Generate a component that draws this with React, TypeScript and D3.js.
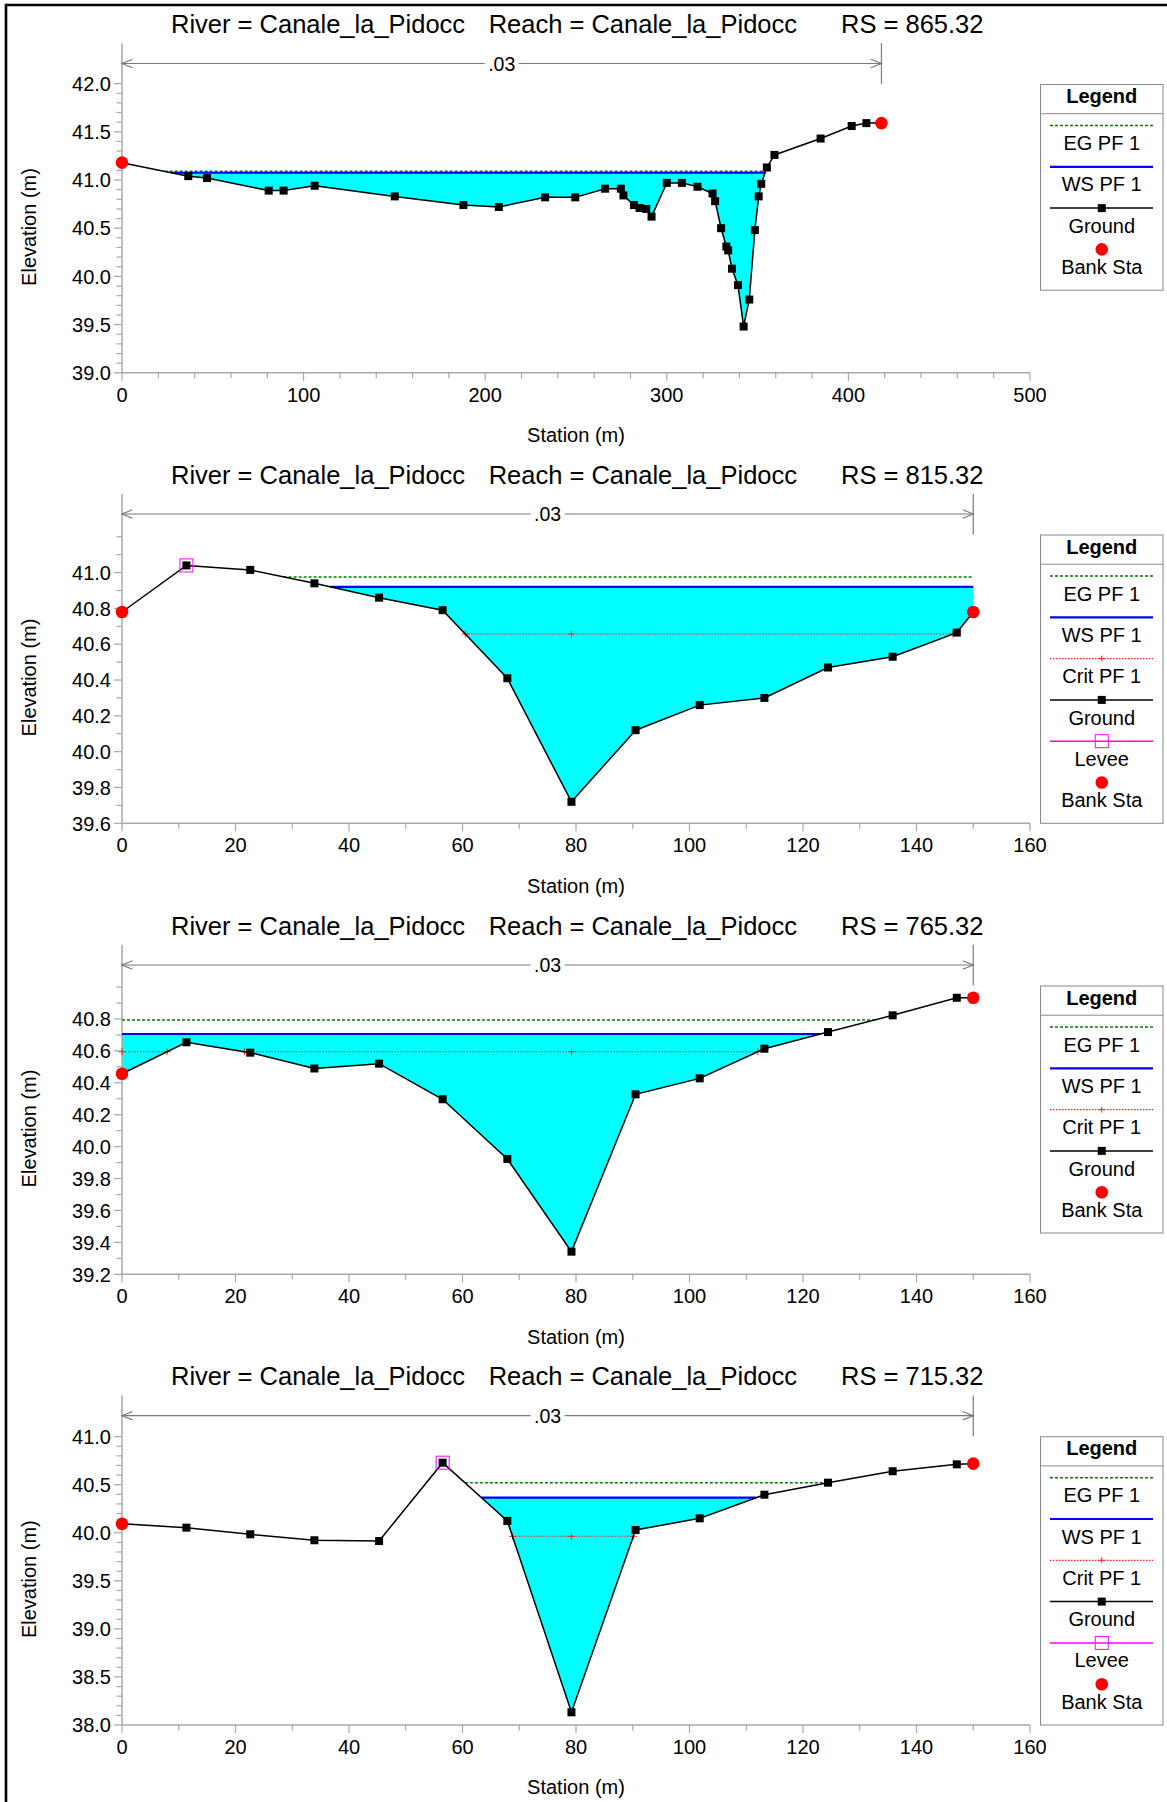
import React from 'react';
import * as d3 from 'd3';

const FONT = "'Liberation Sans', Arial, Helvetica, sans-serif";

// ---------------- DATA ----------------
// Cross section RS 865.32
const sta865 = [0, 36.5, 46.8, 80.8, 89.0, 106.1, 150.2, 188.0, 207.5, 233.0, 249.6, 266.0, 274.7, 276.1, 281.9, 285.0, 288.7, 291.6, 300.0, 308.3, 316.9, 325.2, 326.6, 329.9, 332.8, 333.8, 335.9, 339.2, 342.3, 345.4, 348.5, 350.6, 352.0, 355.1, 359.3, 384.7, 401.8, 409.9, 418.2];
const elev865 = [41.18, 41.04, 41.02, 40.89, 40.89, 40.94, 40.83, 40.74, 40.72, 40.82, 40.82, 40.91, 40.91, 40.84, 40.74, 40.71, 40.70, 40.62, 40.97, 40.97, 40.93, 40.86, 40.78, 40.50, 40.31, 40.27, 40.08, 39.91, 39.48, 39.76, 40.48, 40.83, 40.96, 41.13, 41.26, 41.43, 41.56, 41.59, 41.59];

// Cross section RS 815.32
const sta815 = [0, 11.35, 22.6, 33.9, 45.3, 56.5, 67.9, 79.2, 90.5, 101.8, 113.2, 124.4, 135.8, 147.1, 150];
const elev815 = [40.78, 41.04, 41.015, 40.94, 40.86, 40.79, 40.41, 39.72, 40.12, 40.26, 40.30, 40.47, 40.53, 40.665, 40.78];

// Cross section RS 765.32
const sta765 = [0, 11.35, 22.6, 33.9, 45.3, 56.5, 67.9, 79.2, 90.5, 101.8, 113.2, 124.4, 135.8, 147.1, 150];
const elev765 = [40.457, 40.654, 40.589, 40.49, 40.52, 40.297, 39.923, 39.342, 40.328, 40.428, 40.614, 40.718, 40.823, 40.933, 40.933];

// Cross section RS 715.32
const sta715 = [0, 11.35, 22.6, 33.9, 45.3, 56.5, 67.9, 79.2, 90.5, 101.8, 113.2, 124.4, 135.8, 147.1, 150];
const elev715 = [40.094, 40.053, 39.984, 39.922, 39.914, 40.729, 40.123, 38.132, 40.029, 40.15, 40.396, 40.521, 40.64, 40.712, 40.719];

const riverStations = ['865.32', '815.32', '765.32', '715.32'];
const riverName = 'Canale_la_Pidocc';
const reachName = 'Canale_la_Pidocc';
const wsLevels = [41.075, 40.92, 40.706, 40.365];
const egLevels = [41.09, 40.976, 40.794, 40.521];
const critLevels: (number | null)[] = [null, 40.657, 40.595, 39.963];
const leftLevees: (number | null)[] = [null, 11.35, null, 56.5];
const bankStations = [[0, 418.2], [0, 150], [0, 150], [0, 150]];
const manningN = ['.03', '.03', '.03', '.03'];

const xDomains: [number, number][] = [[0, 500], [0, 160], [0, 160], [0, 160]];
const yDomains: [number, number][] = [[39.0, 42.418], [39.6, 41.44], [39.2, 41.265], [38.0, 41.428]];
const yTickLabels = [
  [39.0, 39.5, 40.0, 40.5, 41.0, 41.5, 42.0],
  [39.6, 39.8, 40.0, 40.2, 40.4, 40.6, 40.8, 41.0],
  [39.2, 39.4, 39.6, 39.8, 40.0, 40.2, 40.4, 40.6, 40.8],
  [38.0, 38.5, 39.0, 39.5, 40.0, 40.5, 41.0],
];
const yMinorTop = [42.0, 41.2, 41.0, 41.0];
const xTickLabels = [
  [0, 100, 200, 300, 400, 500],
  [0, 20, 40, 60, 80, 100, 120, 140, 160],
  [0, 20, 40, 60, 80, 100, 120, 140, 160],
  [0, 20, 40, 60, 80, 100, 120, 140, 160],
];
const xMinorStep = [20, 10, 10, 10];

const legendSets = [
  ['EG PF 1', 'WS PF 1', 'Ground', 'Bank Sta'],
  ['EG PF 1', 'WS PF 1', 'Crit PF 1', 'Ground', 'Levee', 'Bank Sta'],
  ['EG PF 1', 'WS PF 1', 'Crit PF 1', 'Ground', 'Bank Sta'],
  ['EG PF 1', 'WS PF 1', 'Crit PF 1', 'Ground', 'Levee', 'Bank Sta'],
];

const stationSets = [sta865, sta815, sta765, sta715];
const elevationSets = [elev865, elev815, elev765, elev715];

// ---------------- LAYOUT ----------------
const W = 1167;
const H = 1802;
const PANEL_OFFSETS = [0, 450.5, 901.5, 1352.2];
const X0 = 122;
const X1 = 1030;
const AXIS_Y = 372.8;
const TOP_Y = 43.3;
const NBAR_Y = 63.5;
const LEG_X0 = 1040.5;
const LEG_X1 = 1163;
const LEG_TOP = 84.5;
const LEG_SEP = 113.7;
const ENTRY_H = 41.3;
const LEG_CX = (LEG_X0 + LEG_X1) / 2;
const SQ = 8;

const COL_AXIS = '#a8a8a8';
const COL_NBAR = '#7a7a7a';
const COL_WATER = '#00ffff';
const COL_WS = '#0000ff';
const COL_EG = '#008000';
const COL_CRIT = '#ff2020';
const COL_LEVEE = '#ff00ff';
const COL_BANK = '#ff0000';

type Pt = { s: number; e: number };

function interp(sta: number[], elev: number[], s: number): number {
  for (let i = 0; i < sta.length - 1; i++) {
    if (s >= sta[i] && s <= sta[i + 1]) {
      const t = sta[i + 1] === sta[i] ? 0 : (s - sta[i]) / (sta[i + 1] - sta[i]);
      return elev[i] + t * (elev[i + 1] - elev[i]);
    }
  }
  return s < sta[0] ? elev[0] : elev[elev.length - 1];
}

function wetRanges(sta: number[], elev: number[], level: number, lo: number, hi: number): Pt[][] {
  const pts: Pt[] = [{ s: lo, e: interp(sta, elev, lo) }];
  sta.forEach((s, i) => {
    if (s > lo && s < hi) pts.push({ s, e: elev[i] });
  });
  pts.push({ s: hi, e: interp(sta, elev, hi) });
  const ranges: Pt[][] = [];
  let cur: Pt[] | null = pts[0].e < level ? [pts[0]] : null;
  for (let k = 1; k < pts.length; k++) {
    const a = pts[k - 1];
    const b = pts[k];
    const aw = a.e < level;
    const bw = b.e < level;
    if (aw !== bw) {
      const t = (level - a.e) / (b.e - a.e);
      const c = { s: a.s + t * (b.s - a.s), e: level };
      if (aw && cur) {
        cur.push(c);
        ranges.push(cur);
        cur = null;
      } else {
        cur = [c];
      }
    }
    if (bw && cur) cur.push(b);
  }
  if (cur) ranges.push(cur);
  return ranges;
}

function LegendSymbol({ kind, cy }: { kind: string; cy: number }) {
  const lx0 = 1050;
  const lx1 = 1153;
  switch (kind) {
    case 'EG PF 1':
      return <line x1={lx0} x2={lx1} y1={cy} y2={cy} stroke={COL_EG} strokeWidth={1.5} strokeDasharray="3,2" />;
    case 'WS PF 1':
      return <line x1={lx0} x2={lx1} y1={cy} y2={cy} stroke={COL_WS} strokeWidth={2.2} />;
    case 'Crit PF 1':
      return (
        <g>
          <line x1={lx0} x2={lx1} y1={cy} y2={cy} stroke={COL_CRIT} strokeWidth={1.2} strokeDasharray="1.5,1.5" />
          <path d={`M${LEG_CX - 3},${cy}H${LEG_CX + 3}M${LEG_CX},${cy - 3}V${cy + 3}`} stroke={COL_CRIT} strokeWidth={1} />
        </g>
      );
    case 'Ground':
      return (
        <g>
          <line x1={lx0} x2={lx1} y1={cy} y2={cy} stroke="#000" strokeWidth={1.5} />
          <rect x={LEG_CX - SQ / 2} y={cy - SQ / 2} width={SQ} height={SQ} fill="#000" />
        </g>
      );
    case 'Levee':
      return (
        <g>
          <line x1={lx0} x2={lx1} y1={cy} y2={cy} stroke={COL_LEVEE} strokeWidth={1.5} />
          <rect x={LEG_CX - 6.5} y={cy - 6.5} width={13} height={13} fill="none" stroke={COL_LEVEE} strokeWidth={1} />
        </g>
      );
    case 'Bank Sta':
      return <circle cx={LEG_CX} cy={cy} r={6.3} fill={COL_BANK} />;
    default:
      return null;
  }
}

function Panel({ idx }: { idx: number }) {
  const sta = stationSets[idx];
  const elev = elevationSets[idx];
  const x = d3.scaleLinear().domain(xDomains[idx]).range([X0, X1]);
  const y = d3.scaleLinear().domain(yDomains[idx]).range([AXIS_Y, TOP_Y]);
  const lo = leftLevees[idx] ?? sta[0];
  const hi = sta[sta.length - 1];

  const ws = wsLevels[idx];
  const eg = egLevels[idx];
  const crit = critLevels[idx];

  const wsRanges = wetRanges(sta, elev, ws, lo, hi);
  const egRanges = wetRanges(sta, elev, eg, lo, hi);
  const critRanges = crit !== null ? wetRanges(sta, elev, crit, lo, hi) : [];

  const area = (level: number) =>
    d3.area<Pt>().x((d) => x(d.s)).y0(y(level)).y1((d) => y(d.e));

  const groundPts: Pt[] = sta.map((s, i) => ({ s, e: elev[i] }));
  const groundLine = d3.line<Pt>().x((d) => x(d.s)).y((d) => y(d.e));

  let minI = 0;
  elev.forEach((e, i) => {
    if (e < elev[minI]) minI = i;
  });
  const thalweg = sta[minI];

  const critMarks: number[] = [];
  critRanges.forEach((r) => {
    critMarks.push(r[0].s, r[r.length - 1].s);
    if (thalweg > r[0].s && thalweg < r[r.length - 1].s) critMarks.push(thalweg);
  });

  const [xa, xb] = xDomains[idx];
  const xMinor = d3.range(xa, xb + 1e-6, xMinorStep[idx]);
  const yLabels = yTickLabels[idx];
  const yMinor = d3.range(Math.round(yDomains[idx][0] * 10), Math.round(yMinorTop[idx] * 10) + 1).map((v) => v / 10);

  const banks = bankStations[idx];
  const bankR = banks[1];
  const xl = x(banks[0]);
  const xr = x(bankR);
  const mid = (xl + xr) / 2;

  const legend = legendSets[idx];
  const legH = LEG_SEP - LEG_TOP + legend.length * ENTRY_H + 11.3;

  const fmt = d3.format('.1f');

  return (
    <g transform={`translate(0,${PANEL_OFFSETS[idx]})`}>
      <g fontFamily={FONT} fontSize={25.5} fill="#000">
        <text x={171} y={33.3}>{`River = ${riverName}`}</text>
        <text x={488.7} y={33.3}>{`Reach = ${reachName}`}</text>
        <text x={841} y={33.3}>{`RS = ${riverStations[idx]}`}</text>
      </g>

      {wsRanges.map((r, i) => (
        <path key={`wf${i}`} d={area(ws)(r) || ''} fill={COL_WATER} stroke="none" />
      ))}

      <line x1={X0} x2={X0} y1={TOP_Y} y2={AXIS_Y} stroke={COL_AXIS} strokeWidth={1.5} />
      <line x1={X0} x2={X1} y1={AXIS_Y} y2={AXIS_Y} stroke={COL_AXIS} strokeWidth={1.5} />
      {yMinor.map((v) => {
        const isMajor = yLabels.some((l) => Math.abs(l - v) < 1e-6);
        return (
          <line key={`ym${v}`} x1={X0 - (isMajor ? 8 : 5.5)} x2={X0} y1={y(v)} y2={y(v)} stroke={COL_AXIS} strokeWidth={1.2} />
        );
      })}
      {xMinor.map((v) => {
        const isMajor = xTickLabels[idx].includes(v);
        return (
          <line key={`xm${v}`} x1={x(v)} x2={x(v)} y1={AXIS_Y} y2={AXIS_Y + (isMajor ? 8 : 5.5)} stroke={COL_AXIS} strokeWidth={1.2} />
        );
      })}
      <g fontFamily={FONT} fontSize={20} fill="#000">
        {yLabels.map((v) => (
          <text key={`yl${v}`} x={111} y={y(v)} dy="0.36em" textAnchor="end">
            {fmt(v)}
          </text>
        ))}
        {xTickLabels[idx].map((v) => (
          <text key={`xl${v}`} x={x(v)} y={AXIS_Y + 29} textAnchor="middle">
            {v}
          </text>
        ))}
        <text x={(X0 + X1) / 2} y={442} textAnchor="middle">
          Station (m)
        </text>
        <text transform={`translate(36,227) rotate(-90)`} textAnchor="middle">
          Elevation (m)
        </text>
      </g>

      <line x1={xl} x2={mid - 17} y1={NBAR_Y} y2={NBAR_Y} stroke={COL_NBAR} strokeWidth={1.2} />
      <line x1={mid + 17} x2={xr} y1={NBAR_Y} y2={NBAR_Y} stroke={COL_NBAR} strokeWidth={1.2} />
      <path d={`M${xl + 10.5},${NBAR_Y - 4.2}L${xl},${NBAR_Y}L${xl + 10.5},${NBAR_Y + 4.2}`} fill="none" stroke={COL_NBAR} strokeWidth={1.2} />
      <path d={`M${xr - 10.5},${NBAR_Y - 4.2}L${xr},${NBAR_Y}L${xr - 10.5},${NBAR_Y + 4.2}`} fill="none" stroke={COL_NBAR} strokeWidth={1.2} />
      <line x1={xr} x2={xr} y1={TOP_Y} y2={84} stroke={COL_NBAR} strokeWidth={1.2} />
      <text x={mid} y={70.5} textAnchor="middle" fontFamily={FONT} fontSize={19.5} fill="#000">
        {manningN[idx]}
      </text>

      {egRanges.map((r, i) => (
        <line key={`eg${i}`} x1={x(r[0].s)} x2={x(r[r.length - 1].s)} y1={y(eg)} y2={y(eg)} stroke={COL_EG} strokeWidth={1.5} strokeDasharray="3,2" />
      ))}
      {wsRanges.map((r, i) => (
        <line key={`ws${i}`} x1={x(r[0].s)} x2={x(r[r.length - 1].s)} y1={y(ws)} y2={y(ws)} stroke={COL_WS} strokeWidth={2.2} />
      ))}
      {crit !== null &&
        critRanges.map((r, i) => (
          <line key={`cr${i}`} x1={x(r[0].s)} x2={x(r[r.length - 1].s)} y1={y(crit)} y2={y(crit)} stroke={COL_CRIT} strokeWidth={1.1} strokeDasharray="1.5,1.5" />
        ))}
      {crit !== null &&
        critMarks.map((s, i) => (
          <path key={`cm${i}`} d={`M${x(s) - 3.5},${y(crit)}H${x(s) + 3.5}M${x(s)},${y(crit) - 3.5}V${y(crit) + 3.5}`} stroke={COL_CRIT} strokeWidth={1} />
        ))}

      <path d={groundLine(groundPts) || ''} fill="none" stroke="#000" strokeWidth={1.5} />
      {groundPts.map((d, i) => (
        <rect key={`gp${i}`} x={x(d.s) - SQ / 2} y={y(d.e) - SQ / 2} width={SQ} height={SQ} fill="#000" />
      ))}
      {leftLevees[idx] !== null && (
        <rect
          x={x(leftLevees[idx] as number) - 6.5}
          y={y(interp(sta, elev, leftLevees[idx] as number)) - 6.5}
          width={13}
          height={13}
          fill="none"
          stroke={COL_LEVEE}
          strokeWidth={1}
        />
      )}
      {banks.map((b, i) => (
        <circle key={`bk${i}`} cx={x(b)} cy={y(interp(sta, elev, b))} r={6.3} fill={COL_BANK} />
      ))}

      <rect x={LEG_X0} y={LEG_TOP} width={LEG_X1 - LEG_X0} height={legH} fill="#fff" stroke="#8a8a8a" strokeWidth={1} />
      <line x1={LEG_X0} x2={LEG_X1} y1={LEG_SEP} y2={LEG_SEP} stroke="#8a8a8a" strokeWidth={1} />
      <text x={LEG_CX} y={103.3} textAnchor="middle" fontFamily={FONT} fontSize={20} fontWeight="bold" fill="#000">
        Legend
      </text>
      {legend.map((name, i) => {
        const cy = LEG_SEP + 11.8 + i * ENTRY_H;
        return (
          <g key={`lg${i}`}>
            <LegendSymbol kind={name} cy={cy} />
            <text x={LEG_CX} y={cy + 24.6} textAnchor="middle" fontFamily={FONT} fontSize={20} fill="#000">
              {name}
            </text>
          </g>
        );
      })}
    </g>
  );
}

export default function App() {
  return (
    <div style={{ position: 'absolute', left: 0, top: 0, width: W, height: H, background: '#fff' }}>
      <svg width={W} height={H} viewBox={`0 0 ${W} ${H}`} style={{ display: 'block' }}>
        <rect x={0} y={0} width={W} height={H} fill="#fff" />
        {[0, 1, 2, 3].map((i) => (
          <Panel key={i} idx={i} />
        ))}
        <line x1={6} x2={W} y1={5} y2={5} stroke="#000" strokeWidth={2.6} />
        <line x1={6} x2={6} y1={3.7} y2={H} stroke="#000" strokeWidth={2.6} />
      </svg>
    </div>
  );
}
